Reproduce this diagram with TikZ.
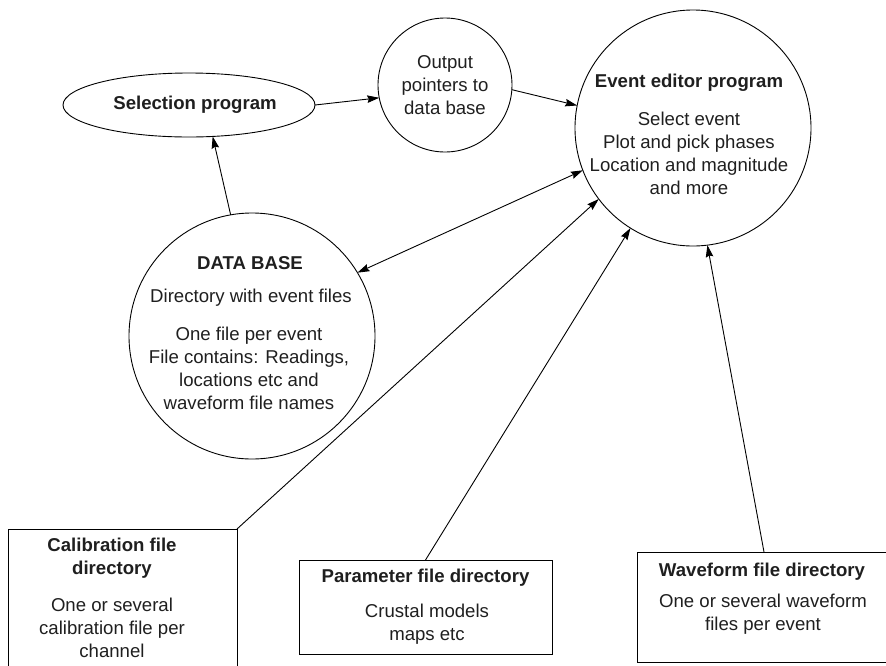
\documentclass[tikz,border=0pt]{standalone}
\usepackage{fontspec}
\setmainfont{Liberation Sans}
\usetikzlibrary{shapes.geometric,arrows.meta}
\begin{document}
\begin{tikzpicture}[x=1pt,y=-1pt,
  every node/.style={font=\fontsize{18.6}{23}\selectfont, inner sep=0pt, outer sep=0pt},
  shapeline/.style={draw, line width=0.9pt},
  ringnode/.style={shapeline, circle, minimum size=#1},
  boxnode/.style={shapeline, rectangle},
  txt/.style={align=center, text=black!88},
  ttl/.style={align=center, font=\fontsize{18.6}{23}\selectfont\bfseries, text=black!88},
  tip/.tip={Stealth[length=12pt,width=7.5pt,inset=1.5pt]},
  conn/.style={line width=0.9pt, -tip},
  conntwo/.style={line width=0.9pt, tip-tip},
]
\clip (0,0) rectangle (886,665);

% shapes
\node[ringnode=236pt] (ev) at (693,128) {};
\node[ringnode=134pt] (out) at (445,85) {};
\node[ringnode=246pt] (db) at (252,336) {};
\node[shapeline, ellipse, minimum width=252pt, minimum height=64pt] (sel) at (189,105) {};
\node[boxnode, minimum width=229pt, minimum height=181pt] (cal) at (122.5,619.5) {};
\node[boxnode, minimum width=253pt, minimum height=94pt] (par) at (425.5,607) {};
\node[boxnode, minimum width=270pt, minimum height=110pt] (wav) at (772,607) {};

% texts
\node[ttl] (selT) at (195,105) {Selection program};
\node[txt] (outT) at (445,85) {Output\\pointers to\\data base};
\node[ttl] (evT) at (689,83) {Event editor program};
\node[txt] (evB) at (689,153) {Select event\\Plot and pick phases\\Location and magnitude\\and more};
\node[ttl] (dbT) at (250,263) {DATA BASE};
\node[txt] (dbD) at (251,298) {Directory with event files};
\node[txt] (dbB) at (249,368) {One file per event\\File contains: Readings,\\locations etc and\\waveform file names};
\node[ttl] (calT) at (112,558.5) {Calibration file\\directory};
\node[txt] (calB) at (112,628) {One or several\\calibration file per\\channel};
\node[ttl] (parT) at (425.5,578) {Parameter file directory};
\node[txt] (parB) at (427,624.5) {Crustal models\\maps etc};
\node[ttl] (wavT) at (762,572) {Waveform file directory};
\node[txt] (wavB) at (763,614.5) {One or several waveform\\files per event};

% connectors
\draw[conn] (sel.east) -- (out.191);
\draw[conn] (out.356) -- (ev.169);
\draw[conn] (db.100.8) -- (sel.307);
\draw[conntwo] (db.31.3) -- (ev.201);
\draw[conn] (cal.north east) -- (ev.217.6);
\draw[conn] (par.north) -- (ev.238.8);
\draw[conn] ([xshift=-8pt]wav.north) -- (ev.277.6);
\end{tikzpicture}
\end{document}
